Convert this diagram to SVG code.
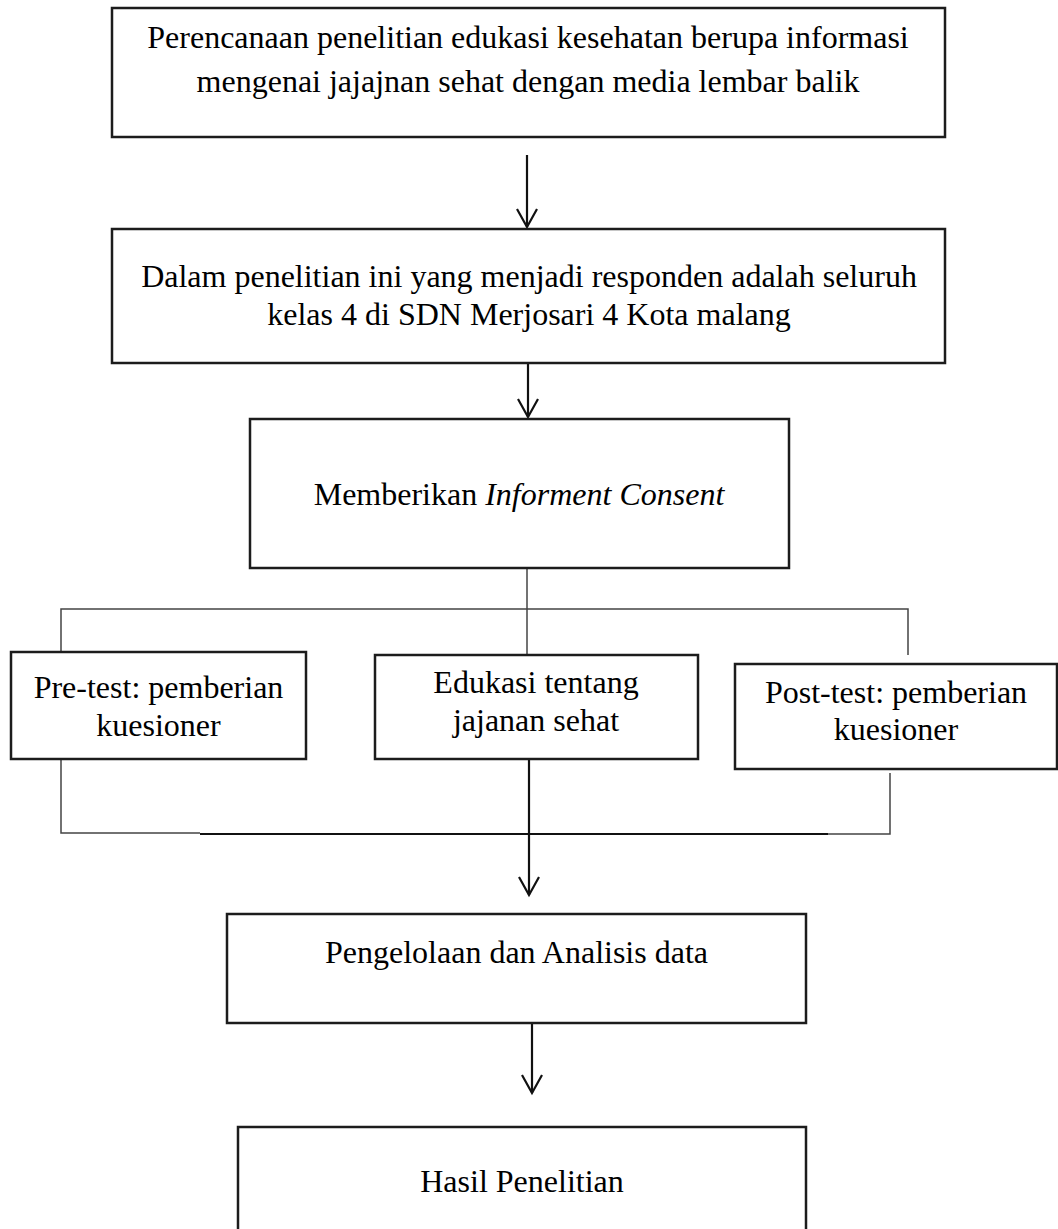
<svg xmlns="http://www.w3.org/2000/svg" width="1058" height="1229" viewBox="0 0 1058 1229">
<defs>
<style>
.box{fill:#fff;stroke:#1c1c1c;stroke-width:2.5}
.t{font-family:"Liberation Serif","Times New Roman",serif;font-size:32px;fill:#000;text-anchor:middle}
.it{font-style:italic}
.thin{fill:none;stroke:#444;stroke-width:1.5}
.arr{fill:none;stroke:#111;stroke-width:2.2;marker-end:url(#head)}
.solid{fill:none;stroke:#111;stroke-width:2.2}
</style>
<marker id="head" markerUnits="userSpaceOnUse" viewBox="-22 -12 26 24" markerWidth="26" markerHeight="24" refX="0" refY="0" orient="auto" overflow="visible">
<path d="M-18,-10 L0,0 L-18,10" fill="none" stroke="#111" stroke-width="2.2"/>
</marker>
</defs>
<rect width="1058" height="1229" fill="#fff"/>

<g id="connectors">
<line class="arr" x1="527" y1="155" x2="527" y2="227"/>
<line class="arr" x1="528" y1="363" x2="528" y2="417"/>
<path class="thin" d="M527,568 V655"/>
<path class="thin" d="M61,655 V609 H908 V655"/>
<path class="thin" d="M61,760 V833 H200"/>
<path class="solid" d="M200,834 H828"/>
<path class="thin" d="M828,834 H890 V773"/>
<line class="arr" x1="529" y1="760" x2="529" y2="895"/>
<line class="arr" x1="532" y1="1023" x2="532" y2="1093"/>
</g>

<g id="n1">
<rect class="box" x="112" y="8" width="833" height="129"/>
<text class="t" x="528" y="48">Perencanaan penelitian edukasi kesehatan berupa informasi</text>
<text class="t" x="528" y="92">mengenai jajajnan sehat dengan media lembar balik</text>
</g>

<g id="n2">
<rect class="box" x="112" y="229" width="833" height="134"/>
<text class="t" x="529" y="287">Dalam penelitian ini yang menjadi responden adalah seluruh</text>
<text class="t" x="529" y="325">kelas 4 di SDN Merjosari 4 Kota malang</text>
</g>

<g id="n3">
<rect class="box" x="250" y="419" width="539" height="149"/>
<text class="t" x="519" y="505">Memberikan <tspan class="it">Informent Consent</tspan></text>
</g>

<g id="n4">
<rect class="box" x="11" y="652" width="295" height="107"/>
<text class="t" x="158.5" y="698">Pre-test: pemberian</text>
<text class="t" x="158.5" y="736">kuesioner</text>
</g>

<g id="n5">
<rect class="box" x="375" y="655" width="323" height="104"/>
<text class="t" x="536" y="693">Edukasi tentang</text>
<text class="t" x="536" y="731">jajanan sehat</text>
</g>

<g id="n6">
<rect class="box" x="735" y="664" width="322" height="105"/>
<text class="t" x="896" y="703">Post-test: pemberian</text>
<text class="t" x="896" y="740">kuesioner</text>
</g>

<g id="n7">
<rect class="box" x="227" y="914" width="579" height="109"/>
<text class="t" x="516.5" y="963">Pengelolaan dan Analisis data</text>
</g>

<g id="n8">
<rect class="box" x="238" y="1127" width="568" height="120"/>
<text class="t" x="522" y="1192">Hasil Penelitian</text>
</g>
</svg>
